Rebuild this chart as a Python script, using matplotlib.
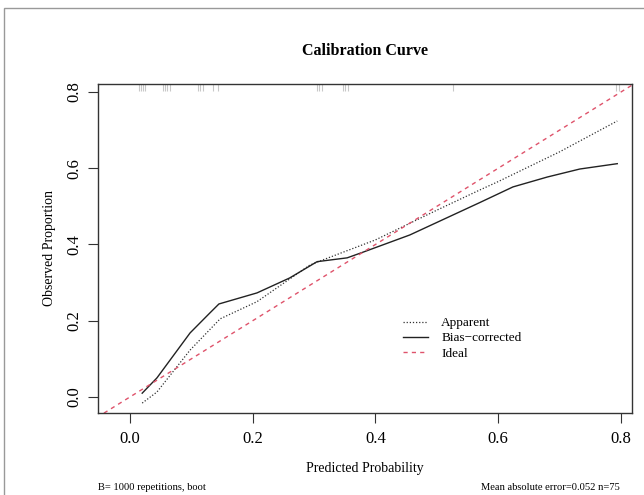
import numpy as np
import matplotlib.pyplot as plt
from matplotlib.patches import Rectangle

plt.rcParams['font.family'] = ['Liberation Serif', 'DejaVu Serif']

# calibration curves
app_x = [0.02, 0.044, 0.098, 0.147, 0.207, 0.293, 0.315, 0.40, 0.50, 0.57, 0.60, 0.70, 0.794]
app_y = [-0.016, 0.013, 0.123, 0.205, 0.25, 0.346, 0.36, 0.412, 0.49, 0.543, 0.565, 0.643, 0.724]

bc_x = [0.02, 0.044, 0.098, 0.13, 0.145, 0.207, 0.26, 0.305, 0.354, 0.38, 0.456, 0.57, 0.624, 0.68, 0.733, 0.794]
bc_y = [0.01, 0.05, 0.168, 0.22, 0.244, 0.273, 0.312, 0.355, 0.365, 0.38, 0.425, 0.51, 0.551, 0.577, 0.598, 0.612]

# predicted probabilities (rug along the top)
rug_x = [0.015, 0.018, 0.021, 0.024, 0.054, 0.057, 0.060, 0.065,
         0.111, 0.114, 0.119, 0.135, 0.143, 0.305, 0.308, 0.313,
         0.347, 0.350, 0.355, 0.527, 0.792, 0.797]

xticks = [0.0, 0.2, 0.4, 0.6, 0.8]
yticks = [0.0, 0.2, 0.4, 0.6, 0.8]

fig = plt.figure(figsize=(6.44, 4.95), dpi=100)
fig.patches.append(Rectangle((4 / 644, -0.01), 1.02, 1 - 8 / 495 + 0.01,
                             transform=fig.transFigure, fill=False,
                             edgecolor='#999999', linewidth=1.0))
ax = fig.add_axes([98 / 644, 1 - 413 / 495, 534 / 644, 329 / 495])

ax.plot(app_x, app_y, color='#333333', linestyle=(0, (1, 1.5)), linewidth=0.9, label='Apparent')
ax.plot(bc_x, bc_y, color='#222222', linestyle='-', linewidth=1.0, label='Bias\u2212corrected')
ax.plot([-0.1, 1.0], [-0.1, 1.0], color='#DF536B', linestyle=(0, (3, 3)), linewidth=1.0, label='Ideal')

ax.vlines(rug_x, 0.979, 1.0, transform=ax.get_xaxis_transform(), color='#bbbbbb', linewidth=0.8, alpha=0.8)

ax.set_xlim(-0.052, 0.818)
ax.set_ylim(-0.042, 0.821)
ax.set_xticks(xticks)
ax.set_yticks(yticks)
ax.set_xticklabels(['%.1f' % t for t in xticks])
ax.set_yticklabels(['%.1f' % t for t in yticks], rotation=90, va='center')
ax.tick_params(direction='out', length=7, width=0.8, labelsize=12, color='#333333')
ax.tick_params(axis='x', pad=6)
ax.tick_params(axis='y', pad=4)
for s in ax.spines.values():
    s.set_linewidth(1.0)
    s.set_color('#333333')

ax.set_xlabel('Predicted Probability', fontsize=10, labelpad=11)
ax.set_ylabel('Observed Proportion', fontsize=10, labelpad=8)
ax.set_title('Calibration Curve', fontsize=11.5, fontweight='bold', pad=21)

ax.legend(loc='upper left', bbox_to_anchor=(0.571, 0.292), frameon=False, fontsize=9.5,
          handlelength=1.9, handletextpad=1.0, labelspacing=0.23, borderaxespad=0,
          borderpad=0)

fig.text(98 / 644, 1 - 488 / 495, 'B= 1000 repetitions, boot', fontsize=7.6, va='center', ha='left')
fig.text(620 / 644, 1 - 488 / 495, 'Mean absolute error=0.052 n=75', fontsize=7.6, va='center', ha='right')

plt.savefig('out.png', dpi=100)
